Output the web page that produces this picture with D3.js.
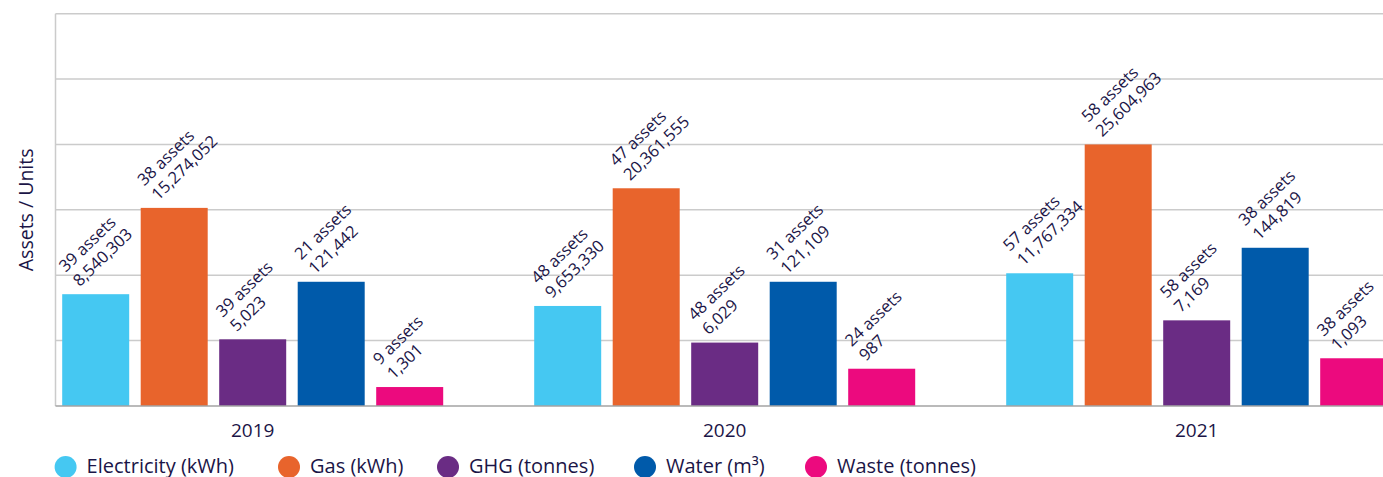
<!DOCTYPE html>
<html>
<head>
<meta charset="utf-8">
<script src="https://cdn.jsdelivr.net/npm/d3@7"></script>
<style>
  html, body { margin: 0; padding: 0; background: #ffffff; }
  svg { display: block; }
  text { font-family: "Open Sans", Lato, sans-serif; fill: #1b1547; font-weight: 500; }
</style>
</head>
<body>
<div id="chart"></div>
<script>
// ---------- data ----------
const years = ["2019", "2020", "2021"];
const seriesNames = ["Electricity (kWh)", "Gas (kWh)", "GHG (tonnes)", "Water (m³)", "Waste (tonnes)"];
const seriesColors = ["#45c8f2", "#e8642c", "#6a2c84", "#005aaa", "#ec0a7e"];

// assets counted per series, per year
const electricityAssets = [39, 48, 57];
const gasAssets = [38, 47, 58];
const ghgAssets = [39, 48, 58];
const waterAssets = [21, 31, 38];
const wasteAssets = [9, 24, 38];

// reported totals per series, per year
const electricityValues = [8540303, 9653330, 11767334];
const gasValues = [15274052, 20361555, 25604963];
const ghgValues = [5023, 6029, 7169];
const waterValues = [121442, 121109, 144819];
const wasteValues = [1301, 987, 1093];

// bar heights on the (unlabelled) chart axis (axis 0–60)
const electricityHeights = [17.1, 15.3, 20.3];
const gasHeights = [30.3, 33.3, 40.0];
const ghgHeights = [10.2, 9.7, 13.1];
const waterHeights = [19.0, 19.0, 24.2];
const wasteHeights = [2.9, 5.7, 7.3];

const yTicks = [0, 10, 20, 30, 40, 50, 60];
const axisTitle = "Assets / Units";

// ---------- build table ----------
const assetsBySeries = [electricityAssets, gasAssets, ghgAssets, waterAssets, wasteAssets];
const valuesBySeries = [electricityValues, gasValues, ghgValues, waterValues, wasteValues];
const heightsBySeries = [electricityHeights, gasHeights, ghgHeights, waterHeights, wasteHeights];

const rows = [];
years.forEach((yr, yi) => {
  seriesNames.forEach((s, si) => {
    rows.push({
      year: yr, series: s, color: seriesColors[si],
      assets: assetsBySeries[si][yi],
      value: valuesBySeries[si][yi],
      height: heightsBySeries[si][yi]
    });
  });
});

// ---------- layout ----------
const W = 1383, H = 477;
const plotLeft = 55.5, plotTop = 13.7, plotBottom = 406, plotRight = 1383;

const svg = d3.select("#chart").append("svg").attr("width", W).attr("height", H);

const y = d3.scaleLinear().domain([0, 60]).range([plotBottom, plotTop]);
const x0 = d3.scaleBand().domain(years).range([16.7, 16.7 + 3 * 472]);
const groupWidth = 381;
const x1 = d3.scaleBand().domain(seriesNames).range([0, groupWidth]).paddingInner(0.1465);
const groupStart = yr => x0(yr) + (x0.bandwidth() - groupWidth) / 2;

// gridlines
svg.append("g").selectAll("line").data(yTicks.filter(t => t > 0)).join("line")
  .attr("x1", plotLeft).attr("x2", plotRight)
  .attr("y1", d => y(d)).attr("y2", d => y(d))
  .attr("stroke", "#cbcbcb").attr("stroke-width", 1.5);

// left frame line
svg.append("line")
  .attr("x1", plotLeft).attr("x2", plotLeft)
  .attr("y1", y(60)).attr("y2", y(0))
  .attr("stroke", "#cbcbcb").attr("stroke-width", 1.5);

// bars
svg.append("g").selectAll("rect").data(rows).join("rect")
  .attr("x", d => groupStart(d.year) + x1(d.series))
  .attr("y", d => y(d.height))
  .attr("width", x1.bandwidth())
  .attr("height", d => y(0) - y(d.height))
  .attr("fill", d => d.color);

// baseline
svg.append("line")
  .attr("x1", plotLeft).attr("x2", plotRight)
  .attr("y1", y(0)).attr("y2", y(0))
  .attr("stroke", "#a3a3a3").attr("stroke-width", 1.5);

// data labels (rotated, two lines, left aligned)
const fmt = d3.format(",");
const lab = svg.append("g").selectAll("g").data(rows).join("g")
  .attr("transform", d => {
    const cx = groupStart(d.year) + x1(d.series) + x1.bandwidth() / 2;
    return `translate(${cx - 16},${y(d.height) - 7}) rotate(-44)`;
  });
const lt = lab.append("text").attr("font-size", 16.5);
lt.append("tspan").attr("x", 0).attr("y", -20).text(d => `${d.assets} assets`);
lt.append("tspan").attr("x", 0).attr("y", 0).text(d => fmt(d.value));

// x axis labels
svg.append("g").selectAll("text").data(years).join("text")
  .attr("x", d => x0(d) + x0.bandwidth() / 2)
  .attr("y", 436.5)
  .attr("text-anchor", "middle")
  .attr("font-size", 19)
  .text(d => d);

// y axis title
svg.append("text")
  .attr("transform", `translate(33,${(plotTop + plotBottom) / 2}) rotate(-90)`)
  .attr("text-anchor", "middle")
  .attr("font-size", 19.5)
  .text(axisTitle);

// legend
const legendX = [65.6, 289, 448, 645, 816];
const leg = svg.append("g").selectAll("g").data(seriesNames).join("g")
  .attr("transform", (d, i) => `translate(${legendX[i]},467)`);
leg.append("circle").attr("r", 11).attr("fill", (d, i) => seriesColors[i]);
leg.append("text").attr("x", 21).attr("y", 5.5).attr("font-size", 20).text(d => d);
</script>
</body>
</html>
